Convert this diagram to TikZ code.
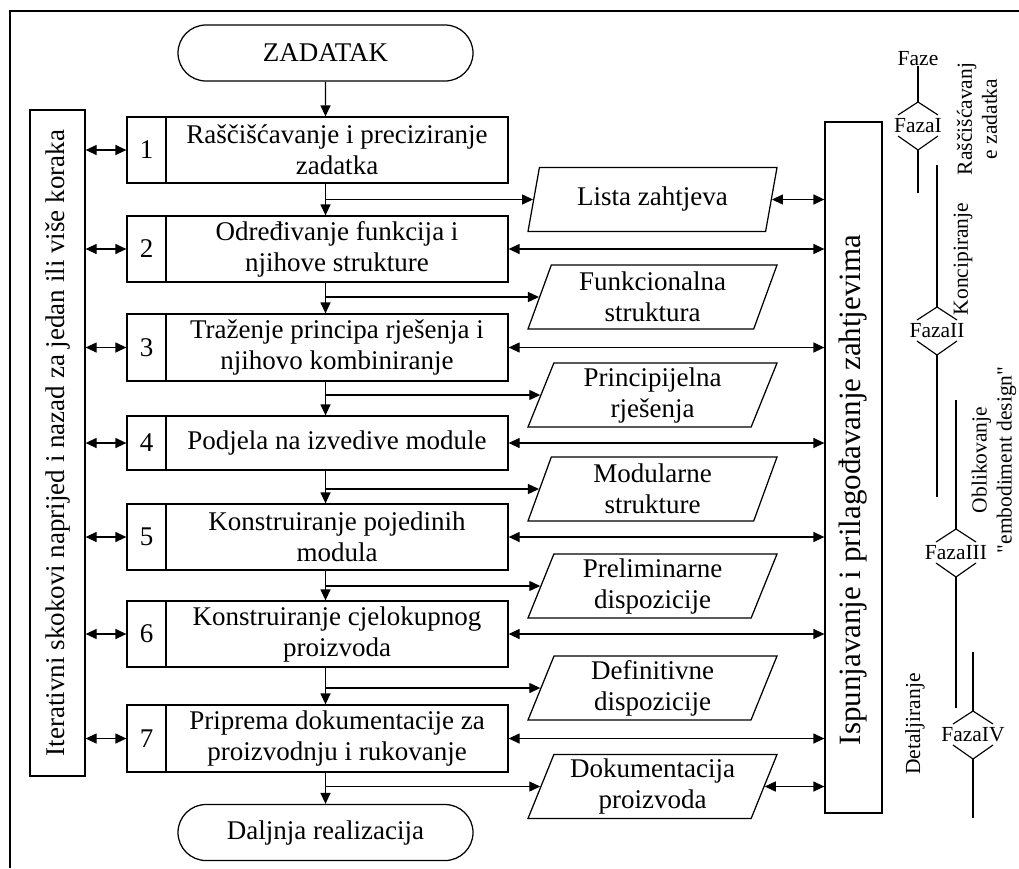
\documentclass[tikz,border=0pt]{standalone}
\usepackage{fontspec}
\setmainfont{Liberation Serif}
\newfontfamily\plainq{Liberation Serif}[Ligatures=TeXOff]
\usetikzlibrary{arrows.meta,shapes.geometric,shapes.misc}
\tikzset{
  base/.style={font=\fontsize{27}{31}\selectfont, inner sep=0pt},
  ln/.style={line width=1.25pt},
  Tri/.tip={Triangle[length=11pt,width=10pt]},
  arr/.style={ln, -Tri},
  darr/.style={ln, Tri-Tri},
  term/.style={base, draw, ln, rounded rectangle, minimum width=295pt, minimum height=56pt},
  numbox/.style={base, draw, ln, minimum width=39pt, minimum height=#1},
  stepbox/.style={base, draw, ln, minimum width=342pt, minimum height=#1, align=center},
  databox/.style={base, draw, ln, trapezium, trapezium left angle=65, trapezium right angle=115,
    trapezium stretches body, minimum width=249pt, minimum height=64pt, align=center},
  barbox/.style={draw, ln, inner sep=0pt},
  bartext/.style={base, rotate=90},
  lbl/.style={font=\fontsize{21.5}{25}\selectfont, inner sep=0pt, align=center},
  phline/.style={line width=1.15pt},
}
\newcommand\phasemark[1]{%
  \draw[phline] ([shift={(-20,-11)}]#1.center) -- ([shift={(0,-24)}]#1.center) coordinate (#1t) -- ([shift={(20,-11)}]#1.center);
  \draw[phline] ([shift={(-20,10)}]#1.center) -- ([shift={(0,24)}]#1.center) coordinate (#1b) -- ([shift={(20,10)}]#1.center);
}
\begin{document}
\begin{tikzpicture}[x=1pt,y=-1pt]
\useasboundingbox (0,0) rectangle (1019,868);
\draw[line width=1.4pt] (10,868) -- (10,11) -- (1019,11);

% terminals
\node[term] (zad) at (325.5,53) {ZADATAK};
\node[term] (dalj) at (325.5,832.5) {Daljnja realizacija};

% steps
\node[numbox=66pt] (n1) at (146.5,150) {1};
\node[stepbox=66pt] (s1) at (337,150) {Raščišćavanje i preciziranje\\zadatka};
\node[numbox=66pt] (n2) at (146.5,249) {2};
\node[stepbox=66pt] (s2) at (337,249) {Određivanje funkcija i\\njihove strukture};
\node[numbox=67pt] (n3) at (146.5,347.5) {3};
\node[stepbox=67pt] (s3) at (337,347.5) {Traženje principa rješenja i\\njihovo kombiniranje};
\node[numbox=54pt] (n4) at (146.5,443) {4};
\node[stepbox=54pt] (s4) at (337,443) {Podjela na izvedive module};
\node[numbox=66pt] (n5) at (146.5,537) {5};
\node[stepbox=66pt] (s5) at (337,537) {Konstruiranje pojedinih\\modula};
\node[numbox=66pt] (n6) at (146.5,634) {6};
\node[stepbox=66pt] (s6) at (337,634) {Konstruiranje cjelokupnog\\proizvoda};
\node[numbox=67pt] (n7) at (146.5,738.5) {7};
\node[stepbox=67pt] (s7) at (337,738.5) {Priprema dokumentacije za\\proizvodnju i rukovanje};

% data
\node[databox] (p1) at (652.5,199.5) {Lista zahtjeva};
\node[databox] (p2) at (652.5,297) {Funkcionalna\\struktura};
\node[databox] (p3) at (652.5,395) {Principijelna\\rješenja};
\node[databox] (p4) at (652.5,489) {Modularne\\strukture};
\node[databox] (p5) at (652.5,586) {Preliminarne\\dispozicije};
\node[databox] (p6) at (652.5,688) {Definitivne\\dispozicije};
\node[databox] (p7) at (652.5,786.5) {Dokumentacija\\proizvoda};

% bars
\node[barbox, minimum width=55pt, minimum height=666pt] (lbar) at (57.5,443) {};
\node[bartext] (ltxt) at (lbar.center) {Iterativni skokovi naprijed i nazad za jedan ili više koraka};
\node[barbox, minimum width=57pt, minimum height=691pt] (rbar) at (853.5,467.5) {};
\node[bartext, font=\fontsize{31}{35}\selectfont] (rtxt) at (853.5,490) {Ispunjavanje i prilagođavanje zahtjevima};

% flow
\draw[arr] (zad) -- (zad |- s1.north);
\draw[arr] (zad |- s1.south) -- (zad |- s2.north);
\draw[arr] (zad |- s2.south) -- (zad |- s3.north);
\draw[arr] (zad |- s3.south) -- (zad |- s4.north);
\draw[arr] (zad |- s4.south) -- (zad |- s5.north);
\draw[arr] (zad |- s5.south) -- (zad |- s6.north);
\draw[arr] (zad |- s6.south) -- (zad |- s7.north);
\draw[arr] (zad |- s7.south) -- (dalj.north);

% branches to data
\foreach \p in {p1,p2,p3,p4,p5,p6,p7}{
  \draw[arr] (zad |- \p.left side) -- (\p.left side);
}

% left double arrows
\foreach \n in {n1,n2,n3,n4,n5,n6,n7}{
  \draw[darr] (\n.west -| lbar.east) -- (\n.west);
}
% right double arrows
\foreach \s in {s2,s3,s4,s5,s6,s7}{
  \draw[darr] (\s.east) -- (\s.east -| rbar.west);
}
\draw[darr] (p1.right side) -- (p1.right side -| rbar.west);
\draw[darr] (p7.right side) -- (p7.right side -| rbar.west);

% phases
\node[lbl] (faze) at (918,59) {Faze};
\node[lbl] (f1) at (918,126) {FazaI};
\node[lbl] (f2) at (937,331) {FazaII};
\node[lbl] (f3) at (956,553) {FazaIII};
\node[lbl] (f4) at (973,735) {FazaIV};
\phasemark{f1}
\phasemark{f2}
\phasemark{f3}
\phasemark{f4}
\coordinate (e1) at (918,193);
\coordinate (a2) at (937,165);
\coordinate (e2) at (937,497);
\coordinate (a3) at (956,400);
\coordinate (e3) at (956,708);
\coordinate (a4) at (973,652);
\coordinate (e4) at (973,818);
\draw[phline] (faze.south) -- (f1t);
\draw[phline] (f1b) -- (e1);
\draw[phline] (a2) -- (f2t);
\draw[phline] (f2b) -- (e2);
\draw[phline] (a3) -- (f3t);
\draw[phline] (f3b) -- (e3);
\draw[phline] (a4) -- (f4t);
\draw[phline] (f4b) -- (e4);

\node[lbl, rotate=90] (l1) at (977,119) {Raščišćavanj\\e zadatka};
\node[lbl, rotate=90] (l2) at (963,259) {Koncipiranje};
\node[lbl, rotate=90] (l3) at (994,460) {Oblikovanje\\{\plainq"}embodiment design{\plainq"}};
\node[lbl, rotate=90] (l4) at (915,724) {Detaljiranje};
\end{tikzpicture}
\end{document}
